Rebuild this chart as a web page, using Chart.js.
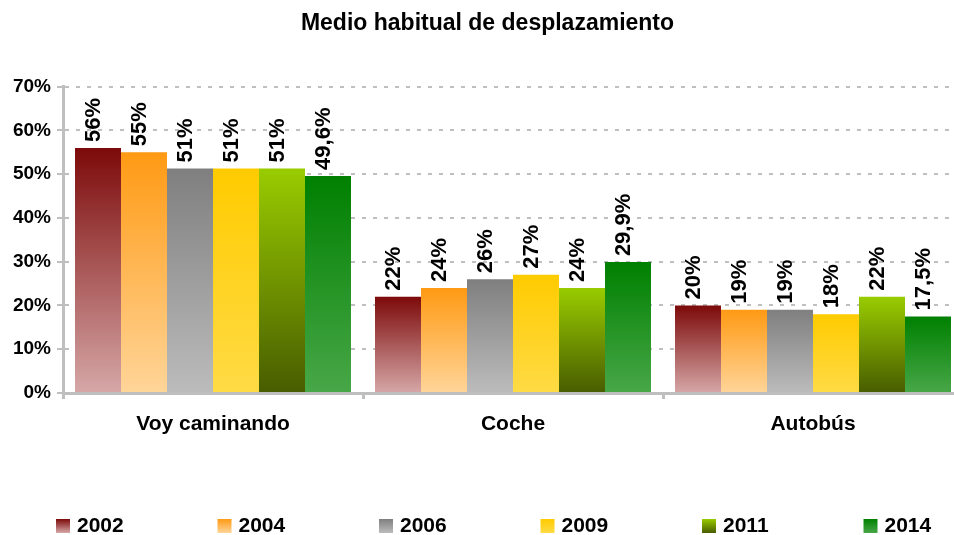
<!DOCTYPE html>
<html>
<head>
<meta charset="utf-8">
<script src="https://cdn.jsdelivr.net/npm/chart.js@4.4.0/dist/chart.umd.min.js"></script>
<style>
  html, body { margin: 0; padding: 0; background: #fff; overflow: hidden; }
  #wrap { width: 975px; height: 547px; }
</style>
</head>
<body>
<div id="wrap"><canvas id="chart" width="975" height="547"></canvas></div>
<script>
const categories = ['Voy caminando', 'Coche', 'Autobús'];
const years = ['2002', '2004', '2006', '2009', '2011', '2014'];
const v2002 = [56, 22, 20];
const v2004 = [55, 24, 19];
const v2006 = [51.3, 26, 19];
const v2009 = [51.3, 27, 18];
const v2011 = [51.3, 24, 22];
const v2014 = [49.6, 29.9, 17.5];
// decimales que muestra cada serie en su etiqueta
const decimals = [0, 0, 0, 0, 0, 1];

// degradado de cada serie: color arriba, color abajo
const colors = [
    ['#7d0a0a', '#d6a7a7'],
    ['#ff9a14', '#ffd599'],
    ['#7f7f7f', '#bcbcbc'],
    ['#ffcb00', '#ffdb45'],
    ['#99cc00', '#485c00'],
    ['#008000', '#48a748']
];

const FONT = '"Liberation Sans", Arial, sans-serif';

function vGradient(ctx, i, top, bottom) {
    const g = ctx.createLinearGradient(0, top, 0, bottom);
    g.addColorStop(0, colors[i][0]);
    g.addColorStop(1, colors[i][1]);
    return g;
}

function barFill(i) {
    return function (ctx) {
        const chart = ctx.chart;
        if (ctx.type !== 'data' || !chart.chartArea) return colors[i][0];
        const y = chart.scales.y;
        return vGradient(chart.ctx, i, y.getPixelForValue(ctx.raw), y.getPixelForValue(0));
    };
}

// etiquetas giradas encima de cada barra
const barLabels = {
    id: 'barLabels',
    afterDatasetsDraw(chart) {
        const ctx = chart.ctx;
        ctx.save();
        ctx.font = 'bold 22px ' + FONT;
        ctx.fillStyle = '#000';
        ctx.textAlign = 'left';
        ctx.textBaseline = 'alphabetic';
        chart.data.datasets.forEach((ds, i) => {
            chart.getDatasetMeta(i).data.forEach((bar, j) => {
                const txt = ds.data[j].toFixed(decimals[i]).replace('.', ',') + '%';
                ctx.save();
                ctx.translate(bar.x, bar.y);
                ctx.rotate(-Math.PI / 2);
                ctx.fillText(txt, 6, 2);
                ctx.restore();
            });
        });
        ctx.restore();
    }
};

// leyenda abajo, repartida como en el original
const bottomLegend = {
    id: 'bottomLegend',
    afterDraw(chart) {
        const ctx = chart.ctx;
        const pitch = 161.5;
        const x0 = chart.chartArea.left - 7;
        const yc = chart.height - 21;
        ctx.save();
        ctx.font = 'bold 21px ' + FONT;
        ctx.textAlign = 'left';
        ctx.textBaseline = 'middle';
        chart.data.datasets.forEach((ds, i) => {
            const x = x0 + i * pitch;
            ctx.fillStyle = vGradient(ctx, i, yc - 7, yc + 7);
            ctx.fillRect(x, yc - 7, 14, 14);
            ctx.fillStyle = '#000';
            ctx.fillText(ds.label, x + 21, yc);
        });
        ctx.restore();
    }
};

const series = [v2002, v2004, v2006, v2009, v2011, v2014];

new Chart(document.getElementById('chart'), {
    type: 'bar',
    data: {
        labels: categories,
        datasets: series.map((d, i) => ({
            label: years[i],
            data: d,
            backgroundColor: barFill(i),
            borderWidth: 0,
            categoryPercentage: 0.92,
            barPercentage: 1.0
        }))
    },
    options: {
        responsive: false,
        animation: false,
        devicePixelRatio: 1,
        events: [],
        layout: { padding: { left: 0, right: 0, top: 0, bottom: 104 } },
        plugins: {
            title: {
                display: true,
                text: 'Medio habitual de desplazamiento',
                color: '#000',
                font: { family: FONT, size: 23, weight: 'bold' },
                padding: { top: 10, bottom: 49 }
            },
            legend: { display: false },
            tooltip: { enabled: false }
        },
        scales: {
            x: {
                grid: {
                    display: true,
                    drawOnChartArea: false,
                    drawTicks: true,
                    tickLength: 6,
                    color: '#bfbfbf',
                    lineWidth: 3
                },
                border: { display: true, color: '#bfbfbf', width: 3 },
                ticks: {
                    color: '#000',
                    padding: 13,
                    font: { family: FONT, size: 21, weight: 'bold' }
                },
                afterFit(scale) { scale.height = 50; }
            },
            y: {
                min: 0,
                max: 70,
                grid: {
                    color: '#bfbfbf',
                    lineWidth: 2,
                    tickLength: 6,
                    tickColor: '#bfbfbf',
                    tickWidth: 2,
                    tickBorderDash: []
                },
                border: { display: true, color: '#bfbfbf', width: 3, dash: [4, 7] },
                ticks: {
                    stepSize: 10,
                    color: '#000',
                    padding: 6,
                    font: { family: FONT, size: 19, weight: 'bold' },
                    callback: v => v + '%'
                },
                afterFit(scale) { scale.width = 63; }
            },
            y2: {
                type: 'linear',
                position: 'right',
                display: true,
                grid: { display: false },
                border: { display: false },
                ticks: { display: false },
                afterFit(scale) { scale.width = 12; }
            }
        }
    },
    plugins: [barLabels, bottomLegend]
});
</script>
</body>
</html>
